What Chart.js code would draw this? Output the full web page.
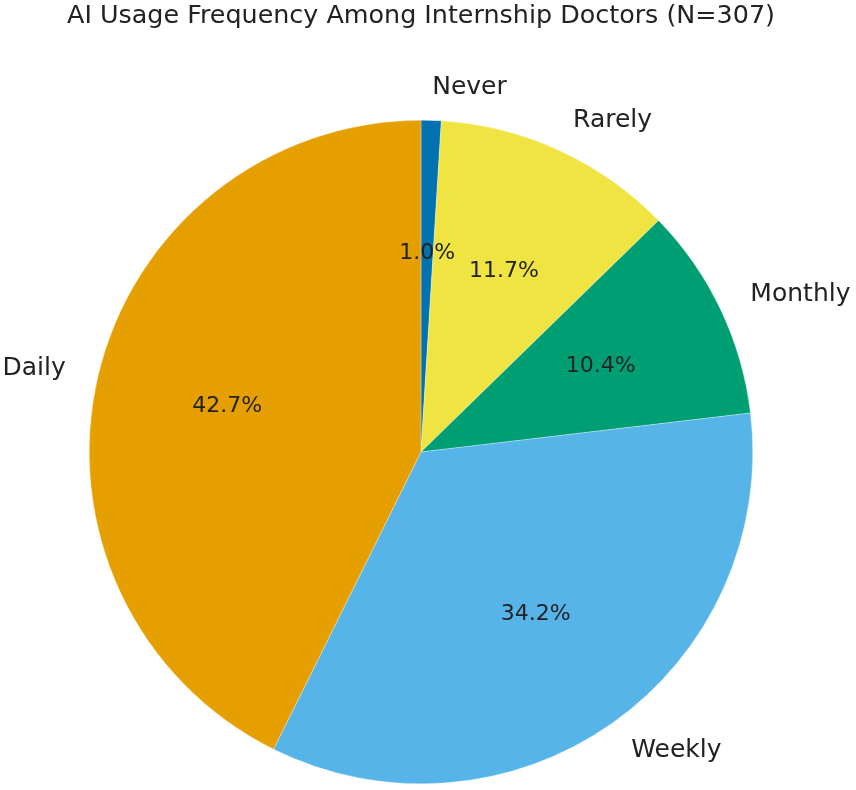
<!DOCTYPE html>
<html lang="en">
<head>
    <meta charset="UTF-8">
    <title>AI Usage Frequency</title>
    <script src="https://cdn.jsdelivr.net/npm/chart.js"></script>
    <style>
        body { margin: 0; background: #fff; }
        #wrap { width: 856px; height: 790px; }
    </style>
</head>
<body>
    <div id="wrap"><canvas id="pieChart"></canvas></div>

    <script>
        // counts out of N=307, clockwise from the top
        const categories = ['Never', 'Rarely', 'Monthly', 'Weekly', 'Daily'];
        const counts = [3, 36, 32, 105, 131];
        const sliceColors = ['#0072B2', '#F0E442', '#009E73', '#56B4E9', '#E69F00'];
        const total = counts.reduce((a, b) => a + b, 0);

        // matplotlib-style labels: name outside at 1.1r, percent inside at 0.6r
        const pieLabels = {
            id: 'pieLabels',
            afterDatasetsDraw(chart) {
                const ctx = chart.ctx;
                const meta = chart.getDatasetMeta(0);
                ctx.save();
                ctx.fillStyle = '#222';
                ctx.textBaseline = 'middle';
                meta.data.forEach((arc, i) => {
                    const p = arc.getProps(['x', 'y', 'startAngle', 'endAngle', 'outerRadius'], true);
                    const mid = (p.startAngle + p.endAngle) / 2;
                    const cos = Math.cos(mid), sin = Math.sin(mid);

                    ctx.font = '22px "DejaVu Sans"';
                    ctx.textAlign = 'center';
                    const pct = (counts[i] / total * 100).toFixed(1) + '%';
                    ctx.fillText(pct, p.x + cos * p.outerRadius * 0.6, p.y + sin * p.outerRadius * 0.6);

                    ctx.font = '25px "DejaVu Sans"';
                    ctx.textAlign = cos >= 0 ? 'left' : 'right';
                    ctx.fillText(categories[i], p.x + cos * p.outerRadius * 1.1, p.y + sin * p.outerRadius * 1.1);
                });
                ctx.restore();
            }
        };

        const ctx = document.getElementById('pieChart').getContext('2d');
        const pieChart = new Chart(ctx, {
            type: 'pie',
            data: {
                labels: categories,
                datasets: [{
                    data: counts,
                    backgroundColor: sliceColors,
                    borderColor: 'rgba(255,255,255,0.6)',
                    borderWidth: 0.5
                }]
            },
            options: {
                responsive: true,
                maintainAspectRatio: false,
                animation: false,
                // wider box so the title isn't squeezed; pie stays centred at x=421
                layout: { padding: { left: 50, right: 64, top: 0, bottom: 6 } },
                plugins: {
                    legend: { display: false },
                    tooltip: { enabled: false },
                    title: {
                        display: true,
                        text: 'AI Usage Frequency Among Internship Doctors (N=307)',
                        color: '#222',
                        font: { family: 'DejaVu Sans', size: 25.4, weight: 'normal' },
                        padding: { top: 1, bottom: 88.5 }
                    }
                }
            },
            plugins: [pieLabels]
        });
    </script>
</body>
</html>
